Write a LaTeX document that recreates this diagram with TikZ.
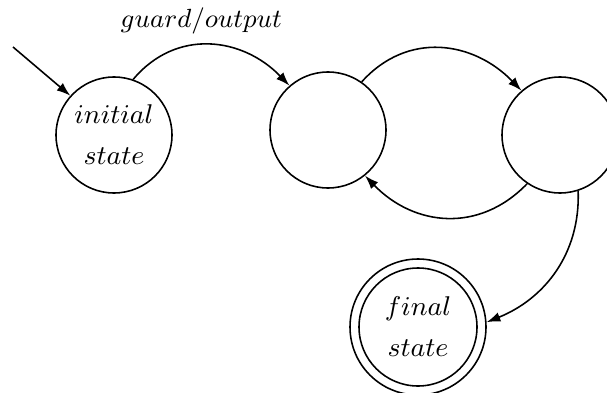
\documentclass[tikz,border=0pt]{standalone}
\usepackage{fix-cm}
\usetikzlibrary{arrows.meta}
\begin{document}
\begin{tikzpicture}[x=0.35pt,y=-0.35pt,
  every node/.style={font=\fontsize{9.5}{14.4}\selectfont},
  statebox/.style={circle,draw,line width=0.55pt,minimum size=40.6pt,inner sep=0pt,align=center},
  conn/.style={line width=0.55pt,-{Latex[length=4.8pt,width=3.4pt]}},
  edgelabel/.style={font=\fontsize{9.2}{10}\selectfont,inner sep=0pt}]
\useasboundingbox (0,0) rectangle (607,392);
\node[statebox] (init) at (114,135) {$initial$\\$state$};
\node[statebox] (s2) at (328,130) {};
\node[statebox] (s3) at (560,135) {};
\node[statebox,minimum size=47.6pt] (final) at (418,327) {$final$\\$state$};
\node[circle,draw,line width=0.55pt,minimum size=41.3pt,inner sep=0pt] (finalin) at (418,327) {};
\coordinate (start) at (13,47);
\draw[conn] (start) -- (init.138);
\draw[conn] (init.71) to[out=50,in=134,looseness=1.1] node[midway,above=3.5pt,xshift=-3pt,edgelabel] {$guard/output$} (s2.131);
\draw[conn] (s2.55) to[out=48,in=134,looseness=1.1] (s3.131);
\draw[conn] (s3.236) to[out=226,in=314,looseness=1.1] (s2.309);
\draw[conn] (s3.288) to[out=272,in=22] (final.4);
\end{tikzpicture}
\end{document}
